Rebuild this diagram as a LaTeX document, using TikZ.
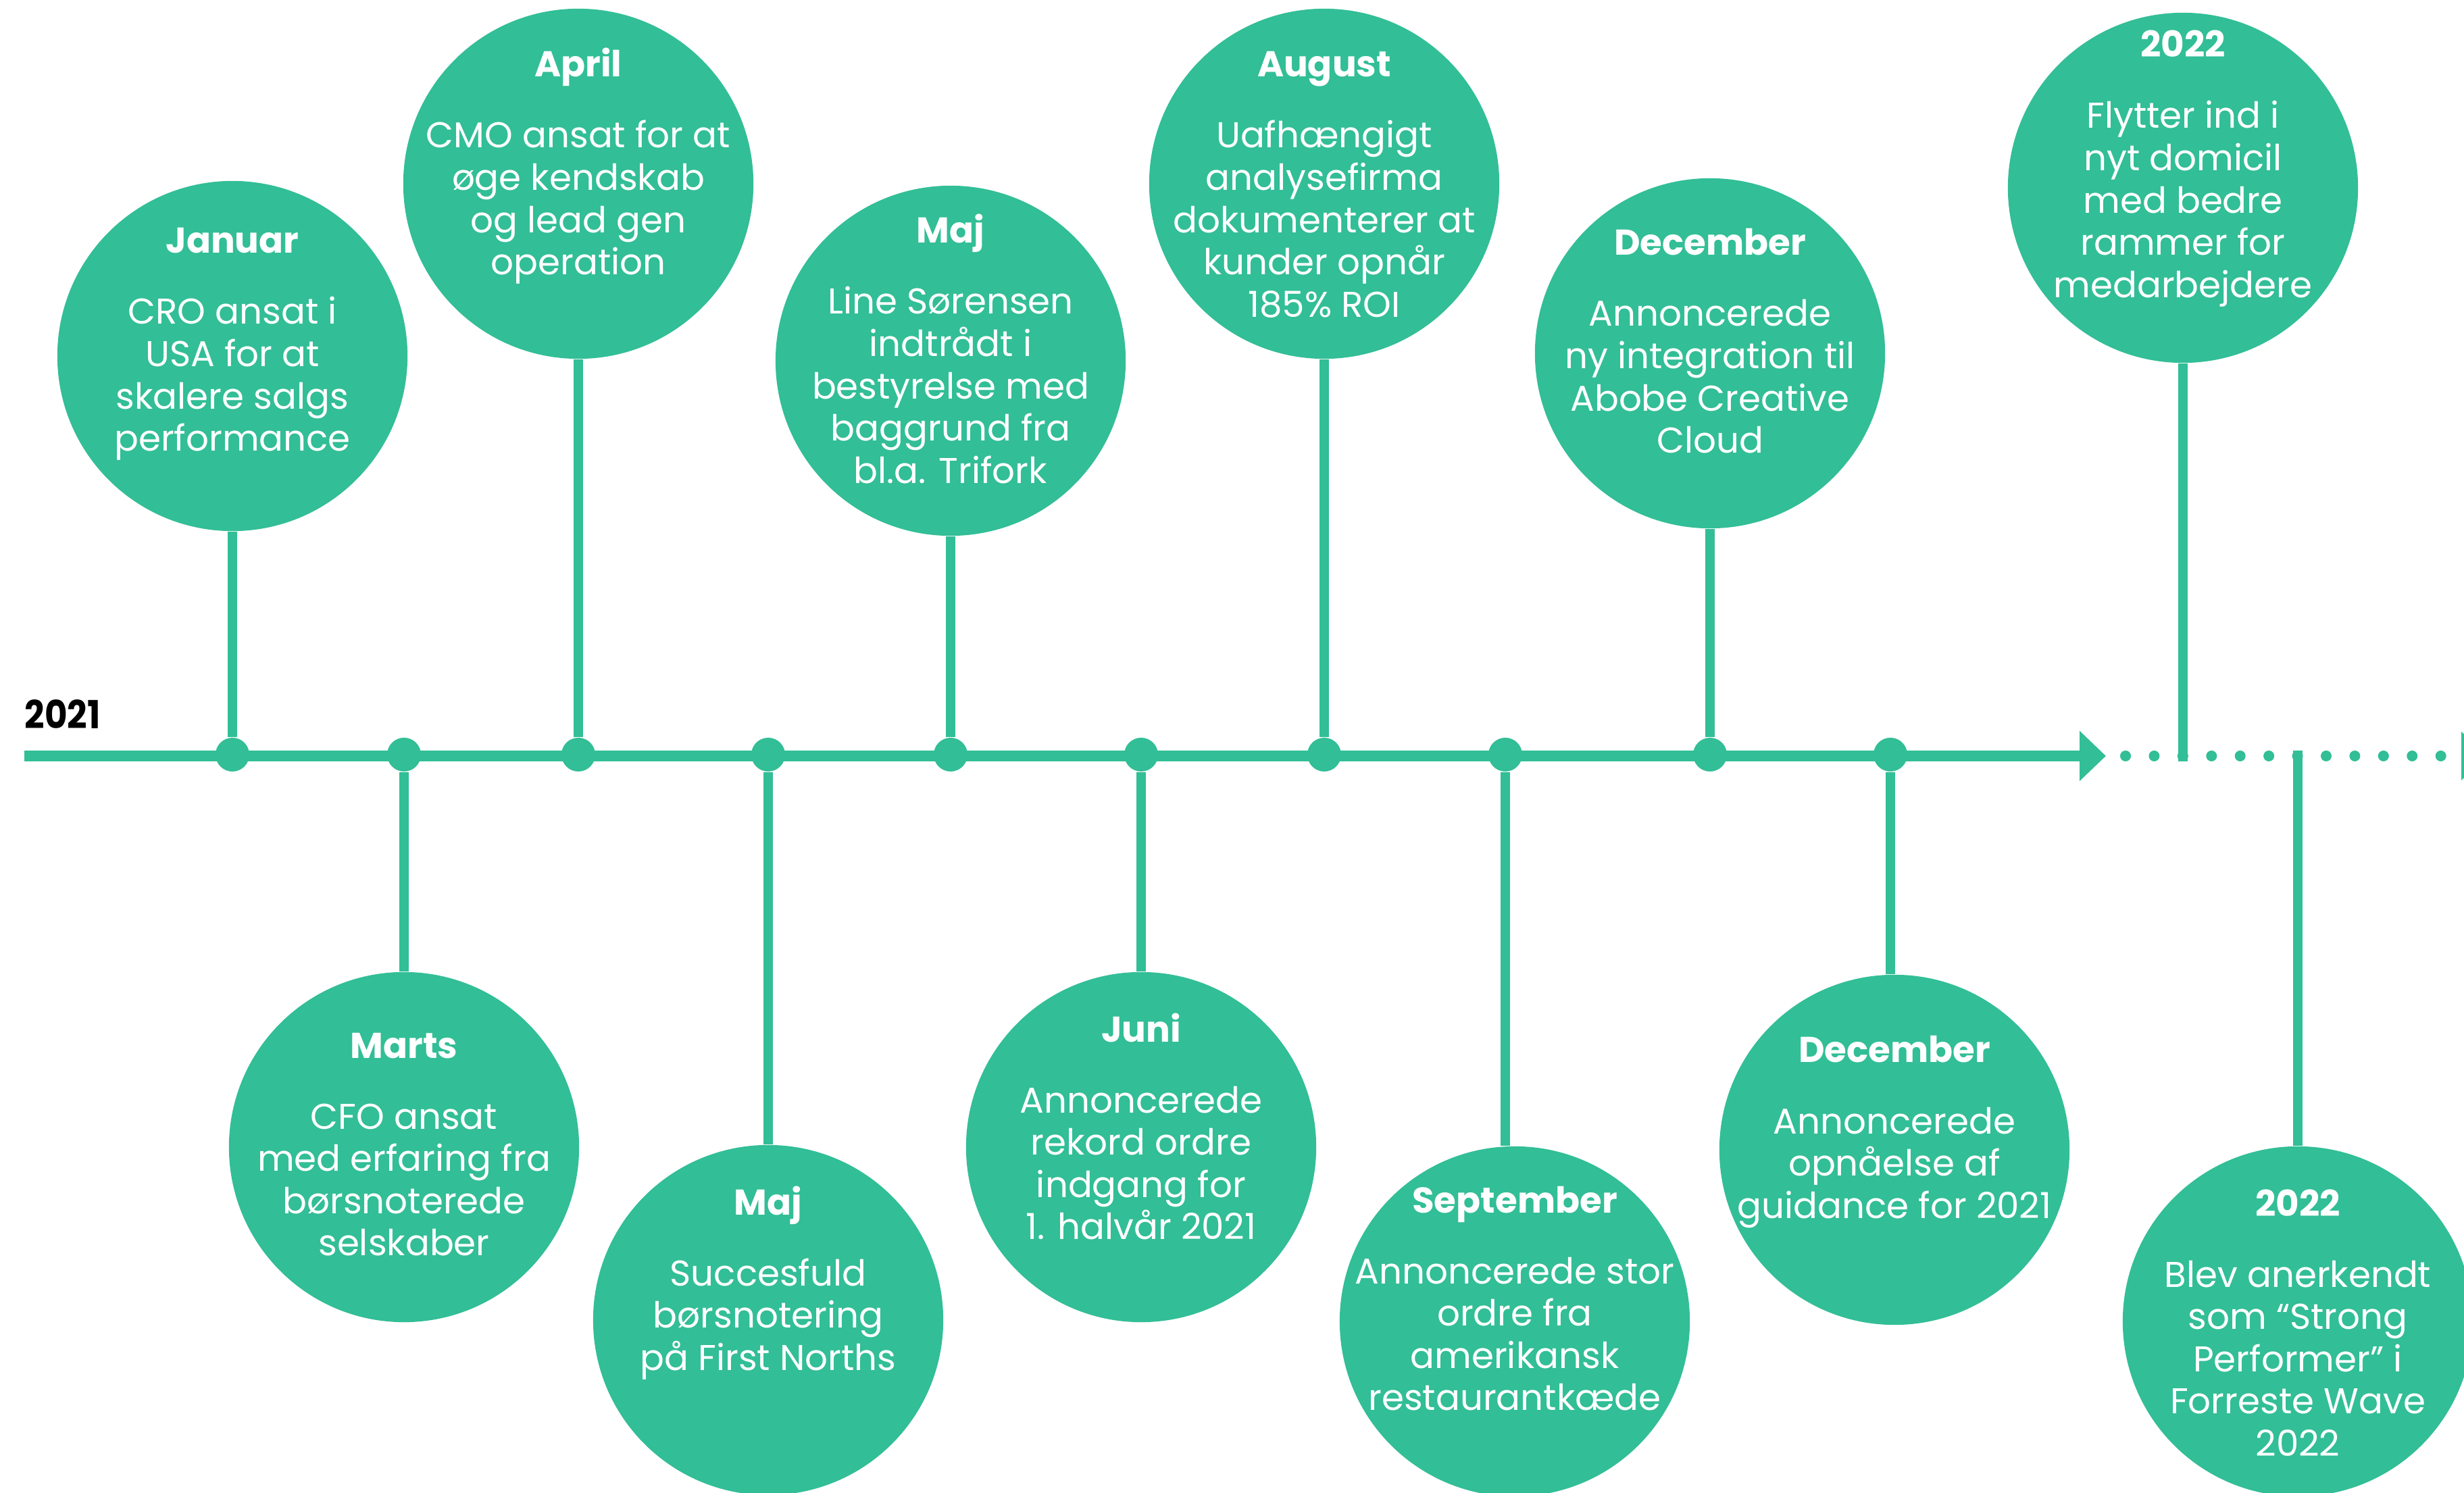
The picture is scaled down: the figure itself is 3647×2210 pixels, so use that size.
\documentclass[tikz,border=0pt]{standalone}
\usepackage{fontspec}
\usepackage{graphicx}
\setmainfont{Poppins}
\usetikzlibrary{arrows.meta}
\definecolor{tlgreen}{RGB}{50,190,150}
\newcommand{\tlevent}[6]{%
  \node[bubble] (#1) at (#2,#3) {};
  \node[head,anchor=base] (#1h) at (#2,#4) {#5};
  \node[body,anchor=base] (#1b) at (#2,#4+105) {\begin{tabular}[t]{@{}c@{}}#6\end{tabular}};
}
\begin{document}
\begin{tikzpicture}[x=0.01cm,y=-0.01cm,
  bubble/.style={circle,fill=tlgreen,draw=none,minimum size=5.18cm,inner sep=0pt},
  head/.style={text=white,font=\fontsize{15.1}{17.8}\selectfont\bfseries,inner sep=0pt},
  body/.style={text=white,font=\fontsize{15.1}{17.8}\selectfont,inner sep=0pt},
  tldot/.style={circle,fill=tlgreen,minimum size=0.5cm,inner sep=0pt},
  stem/.style={draw=tlgreen,line width=0.14cm},
  mainline/.style={draw=tlgreen,line width=0.15cm},
  dotline/.style={draw=tlgreen,line width=0.16cm,line cap=round,dash pattern=on 0pt off 0.424cm},
  yearlabel/.style={font=\fontsize{16.3}{19}\selectfont\bfseries,text=black,inner sep=0pt}
]
\useasboundingbox (0,0) rectangle (3647,2210);
\clip (0,0) rectangle (3647,2210);

% timeline
\coordinate (tlstart) at (36,1119);
\coordinate (tlend) at (3117,1119);
\draw[mainline,-{Triangle[length=0.39cm,width=0.72cm]}] (tlstart) -- (tlend);
\coordinate (dotA) at (3146,1119);
\coordinate (dotB) at (3625,1119);
\draw[dotline] (dotA) -- (dotB);
\fill[tlgreen] (3643,1083) -- (3682,1119) -- (3643,1155) -- cycle;
\node[yearlabel,anchor=base west] (yr) at (36,1079) {\scalebox{0.9}[1]{2021}};

% dots on the line
\foreach \i/\x in {1/344,2/598,3/856,4/1137,5/1407,6/1689,7/1960,8/2228,9/2531,10/2798}
  \node[tldot] (d\i) at (\x,1117) {};

% events above
\tlevent{jan}{344}{527}{375}{Januar}{CRO ansat i\\USA for at\\skalere salgs\\performance}
\tlevent{apr}{856}{272}{114}{April}{CMO ansat for at\\øge kendskab\\og lead gen\\operation}
\tlevent{majA}{1407}{534}{360}{Maj}{Line Sørensen\\indtrådt i\\bestyrelse med\\baggrund fra\\bl.a. Trifork}
\tlevent{aug}{1960}{272}{114}{August}{Uafhængigt\\analysefirma\\dokumenterer at\\kunder opnår\\185\% ROI}
\tlevent{decA}{2531}{523}{378}{December}{Annoncerede\\ny integration til\\Abobe Creative\\Cloud}
\tlevent{yA}{3231}{278}{85}{2022}{Flytter ind i\\nyt domicil\\med bedre\\rammer for\\medarbejdere}

% events below
\tlevent{mar}{598}{1698}{1566}{Marts}{CFO ansat\\med erfaring fra\\børsnoterede\\selskaber}
\tlevent{majB}{1137}{1954}{1798}{Maj}{Succesfuld\\børsnotering\\på First Norths}
\tlevent{jun}{1689}{1698}{1542}{Juni}{Annoncerede\\rekord ordre\\indgang for\\1. halvår 2021}
\tlevent{sep}{2242}{1956}{1795}{September}{Annoncerede stor\\ordre fra\\amerikansk\\restaurantkæde}
\tlevent{decB}{2804}{1702}{1573}{December}{Annoncerede\\opnåelse af\\guidance for 2021}
\tlevent{yB}{3401}{1956}{1800}{2022}{Blev anerkendt\\som “Strong\\Performer” i\\Forreste Wave\\2022}

% stems
\draw[stem] (d1) -- (jan);
\draw[stem] (d3) -- (apr);
\draw[stem] (d5) -- (majA);
\draw[stem] (d7) -- (aug);
\draw[stem] (d9) -- (decA);
\draw[stem] (d2) -- (mar);
\draw[stem] (d4) -- (majB);
\draw[stem] (d6) -- (jun);
\draw[stem] (d8) -- (d8 |- sep.north);
\draw[stem] (d10) -- (d10 |- decB.north);
\coordinate (jA) at (3231,1127);
\coordinate (jB) at (3401,1111);
\draw[stem] (yA) -- (jA);
\draw[stem] (jB) -- (yB);
\end{tikzpicture}
\end{document}
